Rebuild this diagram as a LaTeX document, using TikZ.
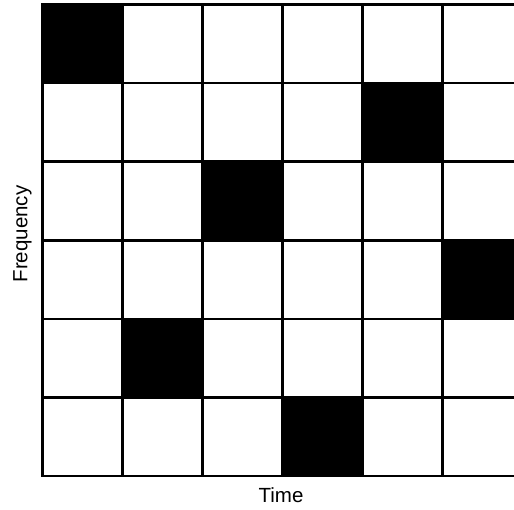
\documentclass[tikz,border=0pt]{standalone}
\usepackage{fontspec}
\setmainfont{Liberation Sans}
\begin{document}
\begin{tikzpicture}[x=1pt,y=1pt,
  gridline/.style={line width=2.6pt, line cap=rect},
  cellfill/.style={fill=black},
  lbl/.style={font=\fontsize{20.5}{24}\selectfont, inner sep=0pt}]
\useasboundingbox (0,0) rectangle (514,509);
\begin{scope}
\clip (0,0) rectangle (514,509);
\foreach \c/\r in {0/0,4/1,2/2,5/3,1/4,3/5}
  \fill[cellfill] ({42.5+80*\c},{504.5-78.6*\r}) rectangle ++(80,-78.6);
\foreach \i in {0,...,6}
  \draw[gridline] ({42.5+80*\i},504.5) -- ({42.5+80*\i},32.9);
\foreach \j in {0,...,6}
  \draw[gridline] (42.5,{504.5-78.6*\j}) -- (522.5,{504.5-78.6*\j});
\end{scope}
\node[lbl, anchor=base] (time) at (281,7) {Time};
\node[lbl, anchor=base, rotate=90] (freq) at (27.5,275) {Frequency};
\end{tikzpicture}
\end{document}
